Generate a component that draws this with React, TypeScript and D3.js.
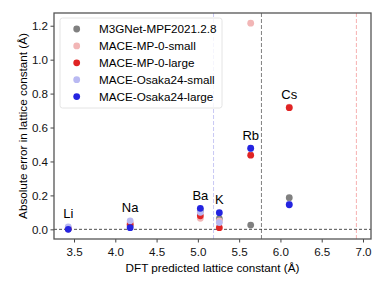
import React, { useEffect, useRef } from 'react';
import * as d3 from 'd3';

// elements and their DFT lattice constants
const elements = ['Li', 'Na', 'Ba', 'K', 'Rb', 'Cs'];
const dftLattice = [3.43, 4.18, 5.03, 5.26, 5.64, 6.107];

// absolute error per model
const m3gnet = [0.005, 0.02, 0.11, 0.063, 0.025, 0.186];
const mpSmall = [0.008, 0.04, 0.065, 0.049, 1.215, 0.72];
const mpLarge = [0.003, 0.03, 0.08, 0.01, 0.437, 0.717];
const osakaSmall = [0.015, 0.05, 0.1, 0.04, 0.475, 0.148];
const osakaLarge = [0.0, 0.01, 0.124, 0.098, 0.478, 0.145];

const modelNames = ['M3GNet-MPF2021.2.8', 'MACE-MP-0-small', 'MACE-MP-0-large', 'MACE-Osaka24-small', 'MACE-Osaka24-large'];
const modelColors = ['#808080', '#f2b6b6', '#e02424', '#b9b9f2', '#2424e0'];

// reference vertical lines
const vLines = [5.19, 5.77, 6.92];
const vLineColors = ['#c8c8f4', '#808080', '#f6b0b0'];

const xTicks = [3.5, 4.0, 4.5, 5.0, 5.5, 6.0, 6.5, 7.0];
const yTicks = [0.0, 0.2, 0.4, 0.6, 0.8, 1.0, 1.2];

function App() {
  const svgRef = useRef<SVGSVGElement>(null);

  useEffect(() => {
    const svg = d3.select(svgRef.current);
    svg.selectAll('*').remove();
    const W = 391, H = 286;
    const m = { left: 54, right: 20, top: 13, bottom: 47 };
    const font = 'Liberation Sans, Arial, sans-serif';

    const x = d3.scaleLinear().domain([3.2575, 7.097]).range([m.left, W - m.right]);
    const y = d3.scaleLinear().domain([-0.057, 1.275]).range([H - m.bottom, m.top]);

    const series = [m3gnet, mpSmall, mpLarge, osakaSmall, osakaLarge];

    // reference lines
    vLines.forEach((v, i) => {
      svg.append('line')
        .attr('x1', x(v)).attr('x2', x(v))
        .attr('y1', m.top).attr('y2', H - m.bottom)
        .attr('stroke', vLineColors[i]).attr('stroke-width', 1)
        .attr('stroke-dasharray', '4,2');
    });
    svg.append('line')
      .attr('x1', m.left).attr('x2', W - m.right)
      .attr('y1', y(0)).attr('y2', y(0))
      .attr('stroke', '#222').attr('stroke-width', 0.8)
      .attr('stroke-dasharray', '3,2');

    // points
    series.forEach((vals, si) => {
      svg.append('g').selectAll('circle')
        .data(vals)
        .enter().append('circle')
        .attr('cx', (_, i) => x(dftLattice[i]))
        .attr('cy', d => y(d))
        .attr('r', 3.4)
        .attr('fill', modelColors[si]);
    });

    // element labels
    elements.forEach((el, i) => {
      const top = Math.max(m3gnet[i], mpLarge[i], osakaSmall[i], osakaLarge[i]);
      svg.append('text')
        .attr('x', x(dftLattice[i]))
        .attr('y', y(top + 0.05))
        .attr('text-anchor', 'middle')
        .attr('font-family', font).attr('font-size', 13)
        .text(el);
    });

    // axes
    const xAxis = svg.append('g')
      .attr('transform', `translate(0,${H - m.bottom})`)
      .call(d3.axisBottom(x).tickValues(xTicks).tickFormat(d3.format('.1f')).tickSize(3.5).tickPadding(5));
    const yAxis = svg.append('g')
      .attr('transform', `translate(${m.left},0)`)
      .call(d3.axisLeft(y).tickValues(yTicks).tickFormat(d3.format('.1f')).tickSize(3.5).tickPadding(2.5));
    [xAxis, yAxis].forEach(a => {
      a.select('.domain').remove();
      a.selectAll('line').attr('stroke', '#444');
      a.selectAll('text').attr('font-family', font).attr('font-size', 11.6).attr('fill', '#111');
    });

    // frame
    svg.append('rect')
      .attr('x', m.left).attr('y', m.top)
      .attr('width', W - m.right - m.left).attr('height', H - m.bottom - m.top)
      .attr('fill', 'none').attr('stroke', '#555').attr('stroke-width', 1.3);

    // axis labels
    svg.append('text')
      .attr('x', (m.left + W - m.right) / 2).attr('y', 271.5)
      .attr('text-anchor', 'middle')
      .attr('font-family', font).attr('font-size', 11.7)
      .text('DFT predicted lattice constant (Å)');
    svg.append('text')
      .attr('transform', `translate(27,${(m.top + H - m.bottom) / 2}) rotate(-90)`)
      .attr('text-anchor', 'middle')
      .attr('font-family', font).attr('font-size', 11.7)
      .text('Absolute error in lattice constant (Å)');

    // legend
    const lg = svg.append('g');
    lg.append('rect')
      .attr('x', 60).attr('y', 18).attr('width', 162).attr('height', 90)
      .attr('rx', 2.5)
      .attr('fill', 'white').attr('fill-opacity', 0.8)
      .attr('stroke', '#ddd').attr('stroke-width', 0.8);
    modelNames.forEach((name, i) => {
      const cy = 29 + i * 16.9;
      lg.append('circle').attr('cx', 76.7).attr('cy', cy).attr('r', 3.4).attr('fill', modelColors[i]);
      lg.append('text')
        .attr('x', 99).attr('y', cy).attr('dy', '0.36em')
        .attr('font-family', font).attr('font-size', 11.7)
        .text(name);
    });
  }, []);

  return (
    <svg ref={svgRef} width={391} height={286} style={{ position: 'absolute', left: 0, top: 0 }}></svg>
  );
}

export default App;
